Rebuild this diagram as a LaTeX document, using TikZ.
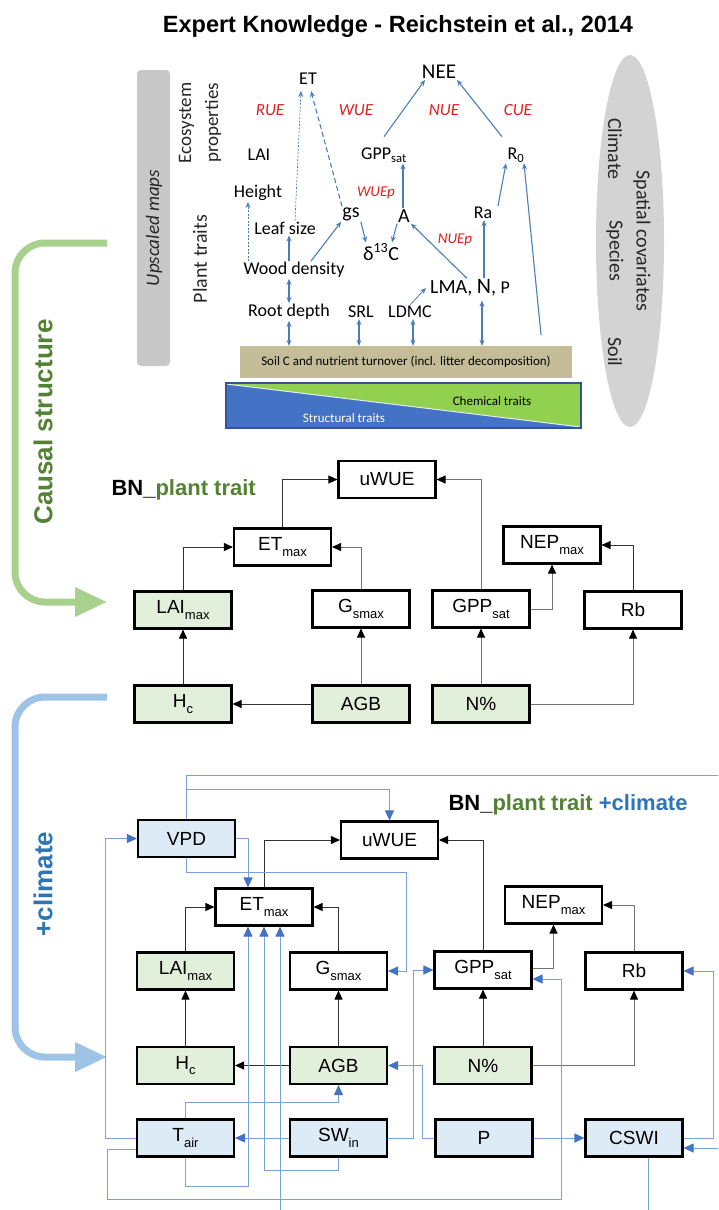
\documentclass[tikz,border=0pt]{standalone}
\usepackage{fontspec}
\setmainfont{Liberation Sans}
\newfontfamily\calib{Carlito}
\usetikzlibrary{arrows.meta}

\definecolor{traitgreen}{RGB}{226,239,218}
\definecolor{climblue}{RGB}{221,235,247}
\definecolor{plantgreen}{RGB}{84,130,53}
\definecolor{climtext}{RGB}{46,117,182}
\definecolor{causalarrow}{RGB}{169,209,142}
\definecolor{climarrow}{RGB}{157,195,230}
\definecolor{lineblue}{RGB}{122,160,224}
\definecolor{tipblue}{RGB}{68,114,196}
\definecolor{rkblue}{RGB}{74,126,187}
\definecolor{rkred}{RGB}{228,28,28}
\definecolor{soiltan}{RGB}{196,189,151}
\definecolor{bargray}{RGB}{200,200,200}
\definecolor{chemgreen}{RGB}{146,208,80}
\definecolor{structblue}{RGB}{68,114,196}

\newcommand{\lsub}[1]{\raisebox{-0.28em}{\fontsize{13}{13}\selectfont #1}}

\tikzset{
  bn/.style={draw, line width=2.1pt, minimum width=97pt, minimum height=37pt,
    inner sep=0pt, font=\fontsize{19}{19}\selectfont},
  trait/.style={bn, fill=traitgreen},
  clim/.style={bn, fill=climblue},
  dep/.style={-{Triangle[length=9pt,width=8pt,color=black]}, line width=0.9pt, black!80},
  cdep/.style={-{Triangle[length=10pt,width=9pt,color=tipblue]}, line width=1pt, lineblue},
  rk/.style={font=\calib\fontsize{18}{18}\selectfont, inner sep=1pt},
  rkeff/.style={font=\calib\itshape\fontsize{17}{17}\selectfont, text=rkred, inner sep=1pt},
  rkto/.style={-{Stealth[length=6pt,width=5pt]}, rkblue, line width=1.1pt},
  rkboth/.style={{Stealth[length=6pt,width=5pt]}-{Stealth[length=6pt,width=5pt]}, rkblue, line width=1.1pt},
  bracket/.style={line width=7pt, rounded corners=30pt, -{Triangle[length=32pt,width=28pt]}},
  side/.style={font=\calib\fontsize{20}{20}\selectfont, text=black!85}
}

\begin{document}
\begin{tikzpicture}[x=1pt,y=-1pt]
  \useasboundingbox (0,0) rectangle (718,1210);
  \clip (0,0) rectangle (718,1210);

  %title
  \node[font=\bfseries\fontsize{23.5}{23.5}\selectfont] (title) at (398,26) {Expert Knowledge - Reichstein et al., 2014};

  %grey bar and ellipse of the expert scheme
  \fill[bargray, rounded corners=4pt] (137,70) rectangle (170,366);
  \node[side, font=\calib\itshape\fontsize{19}{19}\selectfont, rotate=90] (upscaled) at (154,228) {Upscaled maps};
  \fill[bargray!80] (630,241) ellipse [x radius=34, y radius=186];
  \node[side, rotate=-90] (climate) at (615,149) {Climate};
  \node[side, rotate=-90] (spatial) at (642,241) {Spatial covariates};
  \node[side, rotate=-90] (species) at (615,251) {Species};
  \node[side, rotate=-90] (soiltxt) at (615,352) {Soil};
  \node[side, rotate=90, align=center, font=\calib\fontsize{19}{27}\selectfont] (ecoprop) at (200,123) {Ecosystem\\properties};
  \node[side, rotate=90] (planttr) at (200,259) {Plant traits};

  %soil box and trait triangles
  \node[fill=soiltan, minimum width=332pt, minimum height=32pt, inner sep=0pt,
    font=\calib\fontsize{13}{13}\selectfont] (soil) at (406,362) {Soil C and nutrient turnover (incl. litter decomposition)};
  \fill[structblue] (226,383) rectangle (581,428);
  \fill[chemgreen] (226,384) -- (581,384) -- (581,427) -- cycle;
  \draw[white!85!structblue, line width=1pt] (226,384) -- (581,427);
  \draw[structblue!75!black, line width=1.5pt] (226,383) rectangle (581,428);
  \node[font=\calib\fontsize{13}{13}\selectfont] (chem) at (492,401) {Chemical traits};
  \node[font=\calib\fontsize{13}{13}\selectfont, text=white] (struct) at (344,418) {Structural traits};

  %variables of the expert scheme
  \node[rk] (et) at (308,79) {ET};
  \node[rk, font=\calib\fontsize{21}{21}\selectfont] (nee) at (439,72) {NEE};
  \node[rkeff] (rue) at (270,110) {RUE};
  \node[rkeff] (wue) at (356,110) {WUE};
  \node[rkeff] (nue) at (444,110) {NUE};
  \node[rkeff] (cue) at (518,110) {CUE};
  \node[rk] (lai) at (259,155) {LAI};
  \node[rk] (gppsat) at (384,155) {GPP\textsubscript{sat}};
  \node[rk] (rzero) at (516,155) {R\textsubscript{0}};
  \node[rk] (height) at (258,193) {Height};
  \node[rkeff, font=\calib\itshape\fontsize{15}{15}\selectfont] (wuep) at (376,193) {WUEp};
  \node[rk, font=\calib\fontsize{20}{20}\selectfont] (gs) at (351,214) {gs};
  \node[rk, font=\calib\fontsize{20}{20}\selectfont] (assim) at (404,216) {A};
  \node[rk] (ra) at (483,213) {Ra};
  \node[rk] (leaf) at (285,228) {Leaf size};
  \node[rkeff, font=\calib\itshape\fontsize{15}{15}\selectfont] (nuep) at (455,240) {NUEp};
  \node[rk, font=\calib\fontsize{20}{20}\selectfont] (dcarb) at (381,252) {δ\textsuperscript{13}C};
  \node[rk] (wood) at (294,270) {Wood density};
  \node[rk, font=\calib\fontsize{20}{20}\selectfont] (lmanp) at (470,288) {LMA, {\fontsize{22}{22}\selectfont N}, {\fontsize{18}{18}\selectfont P}};
  \node[rk] (root) at (289,312) {Root depth};
  \node[rk] (srl) at (361,312) {SRL};
  \node[rk] (ldmc) at (410,312) {LDMC};

  %links of the expert scheme
  \draw[rkto, line width=0.7pt, dash pattern=on 2pt off 1.5pt] ([xshift=10pt]leaf.north) -- ([xshift=-7pt,yshift=-5pt]et.south);
  \draw[rkto, dash pattern=on 5pt off 3pt] ([xshift=-9pt]gs.north) -- ([xshift=3pt,yshift=-5pt]et.south);
  \draw[rkto, line width=0.7pt, dash pattern=on 2pt off 1.5pt] ([xshift=-46pt]wood.north) -- ([xshift=-10pt]height.south);
  \draw[rkto] ([xshift=-5pt]wood.north) -- ([xshift=4pt]leaf.south);
  \draw[rkto] ([xshift=17pt]wood.north) -- (gs.south west);
  \draw[rkto] (gs.south east) -- ([xshift=-15pt]dcarb.north);
  \draw[rkto] ([xshift=-7pt]assim.south) -- ([xshift=11pt]dcarb.north);
  \draw[rkto] ([xshift=-3pt]lmanp.north) -- (assim.south east);
  \draw[rkto] ([xshift=14pt]lmanp.north) -- ([xshift=1pt]ra.south);
  \draw[rkboth] ([xshift=-5pt]wood.south) -- (root.north);
  \draw[rkto, line width=0.8pt] (ldmc.north) -- ([xshift=-3pt]lmanp.west);
  \draw[rkboth] (root.south) -- (root.south |- soil.north);
  \draw[rkboth] ([xshift=-2pt]srl.south) -- ([xshift=-2pt]srl.south |- soil.north);
  \draw[rkboth] ([xshift=3pt]ldmc.south) -- ([xshift=3pt]ldmc.south |- soil.north);
  \draw[rkboth] ([xshift=12pt,yshift=-3pt]lmanp.south) -- ([xshift=12pt]lmanp.south |- soil.north);
  \draw[rkto] ([xshift=135pt,yshift=11pt]soil.north) -- ([xshift=8pt]rzero.south);
  \draw[rkto] ([xshift=15pt]ra.north) -- ([xshift=-10pt]rzero.south);
  \draw[rkto] ([xshift=-1pt]assim.north) -- ([xshift=-1pt]assim.north |- gppsat.south);
  \draw[rkto] ([yshift=10pt]gppsat.north) -- ([xshift=-14pt]nee.south);
  \draw[rkto] ([xshift=-14pt,yshift=10pt]rzero.north) -- ([xshift=18pt]nee.south);

  %side arrows
  \draw[bracket, causalarrow] (107,243) -- (15,243) -- (15,602) -- (107,602);
  \node[font=\bfseries\fontsize{26}{26}\selectfont, text=plantgreen, rotate=90] (causal) at (43,422) {Causal structure};
  \draw[bracket, climarrow] (107,697) -- (15,697) -- (15,1057) -- (107,1057);
  \node[font=\bfseries\fontsize{26}{26}\selectfont, text=climtext, rotate=90] (pclim) at (43,884) {+climate};

  %first BN, plant traits only
  \node[font=\bfseries\fontsize{22}{22}\selectfont, anchor=west] (bnone) at (108,490) {BN\_\textcolor{plantgreen}{plant trait}};
  \node[bn] (uwue1) at (387,479.5) {uWUE};
  \node[bn] (et1) at (282.5,547) {ET\lsub{max}};
  \node[bn] (nep1) at (552,545) {NEP\lsub{max}};
  \node[trait] (lai1) at (183,610) {LAI\lsub{max}};
  \node[bn] (gs1) at (361,609) {G\lsub{smax}};
  \node[bn] (gpp1) at (481,609) {GPP\lsub{sat}};
  \node[bn] (rb1) at (633,610) {Rb};
  \node[trait] (h1) at (183,704) {H\lsub{c}};
  \node[trait] (agb1) at (361,704) {AGB};
  \node[trait] (n1) at (481,704) {N\%};

  \draw[dep] (et1.north) |- (uwue1.west);
  \draw[dep, black!55] (gpp1.north) |- (uwue1.east);
  \draw[dep] (lai1.north) |- (et1.west);
  \draw[dep, black!55] (gs1.north) |- (et1.east);
  \draw[dep, black!55] (gpp1.east) -| (nep1.south);
  \draw[dep] (rb1.north) |- (nep1.east);
  \draw[dep] (h1) -- (lai1);
  \draw[dep, black!55] (agb1) -- (gs1);
  \draw[dep, black!55] (n1) -- (gpp1);
  \draw[dep] (agb1) -- (h1);
  \draw[dep, black!55] (n1.east) -| (rb1.south);

  %second BN, plant traits and climate
  \node[font=\bfseries\fontsize{22}{22}\selectfont, anchor=west] (bntwo) at (445,805) {BN\_\textcolor{plantgreen}{plant trait} \textcolor{climtext}{+climate}};
  \node[clim] (vpd) at (186.5,838.5) {VPD};
  \node[bn] (uwue2) at (389.5,840) {uWUE};
  \node[bn] (et2) at (264,907) {ET\lsub{max}};
  \node[bn] (nep2) at (553.5,905) {NEP\lsub{max}};
  \node[trait] (lai2) at (185.5,971) {LAI\lsub{max}};
  \node[bn] (gs2) at (338.5,971) {G\lsub{smax}};
  \node[bn] (gpp2) at (483,970) {GPP\lsub{sat}};
  \node[bn] (rb2) at (634,971) {Rb};
  \node[trait] (h2) at (185.5,1065.5) {H\lsub{c}};
  \node[trait] (agb2) at (338.5,1065.5) {AGB};
  \node[trait] (n2) at (483,1065.5) {N\%};
  \node[clim] (tair) at (185.5,1138) {T\lsub{air}};
  \node[clim] (swin) at (338.5,1138) {SW\lsub{in}};
  \node[clim] (p) at (484,1138) {P};
  \node[clim] (cswi) at (634,1138) {CSWI};

  %entry points on ET_max
  \coordinate (eta) at ([xshift=-16pt]et2.south);
  \coordinate (etc) at ([xshift=16pt]et2.south);

  \draw[dep] (et2.north) |- (uwue2.west);
  \draw[dep] (gpp2.north) |- (uwue2.east);
  \draw[dep] (lai2.north) |- (et2.west);
  \draw[dep] (gs2.north) |- (et2.east);
  \draw[dep, black!55] ([yshift=2pt]gpp2.east) -| (nep2.south);
  \draw[dep, black!55] (rb2.north) |- (nep2.east);
  \draw[dep] (h2) -- (lai2);
  \draw[dep] (agb2) -- (gs2);
  \draw[dep] (n2) -- (gpp2);
  \draw[dep] (agb2) -- (h2);
  \draw[dep, black!55] (n2.east) -| (rb2.south);

  %climate links
  \draw[cdep] (vpd.north) |- (730,775) |- ([yshift=-10pt]cswi.east);
  \draw[cdep] (vpd.north) |- (uwue2.north |- 0,789) -- (uwue2.north);
  \draw[cdep] (vpd.east) -| (eta |- et2.north);
  \draw[cdep] (vpd.south) |- (406,872) |- (gs2.east);
  \draw[cdep] (tair.west) -| ([xshift=-31pt]vpd.west) -- (vpd.west);
  \draw[cdep] (tair.south) |- (eta |- 0,1186) -- (eta);
  \draw[cdep] (swin.south) |- (et2.south |- 0,1170) -- (et2.south);
  \draw[cdep] ([xshift=14pt]cswi.south) |- (etc |- 0,1225) -- (etc);
  \draw[cdep] ([yshift=-11pt]tair.west) -| (107,1199) -| (561,979) -- ([yshift=-9pt]gpp2.east);
  \draw[cdep] (tair.north) |- (agb2.south |- 0,1102) -- (agb2.south);
  \draw[cdep] (swin) -- (tair);
  \draw[cdep] (swin.east) -| (413,970) -- (gpp2.west);
  \draw[cdep] (p.west) -| (422,1065.5) -- (agb2.east);
  \draw[cdep] (p) -- (cswi);
  \draw[cdep] (cswi.east) -| (713,971) -- (rb2.east);
\end{tikzpicture}
\end{document}
